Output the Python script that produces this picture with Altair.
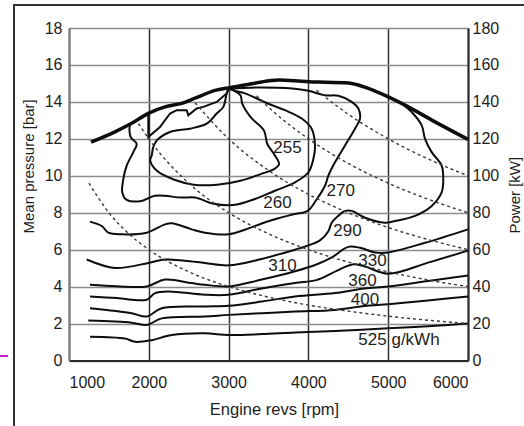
import altair as alt
import pandas as pd

# ---------------- data ----------------
# full-load curve (thick)
fl_rpm = [1276, 1576, 1785, 1994, 2203, 2412, 2580, 2830, 3000, 3205, 3415, 3623, 3832, 4008, 4208, 4543, 4751, 5001, 5252, 5587, 6000]
fl_bar = [11.82, 12.38, 12.84, 13.38, 13.73, 13.92, 14.2, 14.62, 14.76, 14.91, 15.08, 15.18, 15.14, 15.09, 15.06, 15.0, 14.73, 14.27, 13.73, 12.92, 11.97]

# BSFC contours (g/kWh)
c255_rpm = [3000, 3066, 3150, 3171, 3276, 3443, 3485, 3569, 3632, 3569, 3401, 3150, 2857, 2563, 2312, 2102, 2018, 2036, 2056, 2099, 2266, 2516, 2725, 2851, 2934, 2976, 3000]
c255_bar = [14.72, 14.62, 14.35, 13.9, 13.17, 12.45, 11.72, 11.18, 10.63, 10.36, 10.09, 9.73, 9.52, 9.52, 9.8, 10.27, 10.82, 11.1, 11.55, 11.91, 12.37, 12.55, 12.82, 13.37, 13.73, 14.46, 14.72]

jag_rpm = [1994, 1994, 2140, 2266, 2350, 2475, 2495, 2600, 2683, 2851, 2976, 3000]
jag_bar = [13.38, 12.1, 12.64, 13.37, 13.55, 13.55, 13.27, 13.64, 13.73, 14.0, 14.46, 14.72]

c260_rpm = [1800, 1764, 1773, 1848, 1806, 1723, 1681, 1668, 1723, 1911, 2078, 2412, 2579, 2800, 3000, 3122, 3331, 3581, 3832, 4000, 4062, 4083, 4041, 3916, 3707, 3498, 3205, 3080, 3000]
c260_bar = [12.9, 12.73, 12.09, 11.73, 11.28, 10.55, 9.83, 9.1, 8.7, 8.64, 8.92, 8.82, 8.82, 8.5, 8.4, 8.46, 8.74, 9.19, 9.64, 10.19, 10.91, 11.64, 12.55, 13.1, 13.55, 13.9, 14.46, 14.6, 14.72]

c270_rpm = [3000, 3400, 3800, 4000, 4208, 4375, 4543, 4626, 4647, 4584, 4459, 4333, 4249, 4208, 4100, 3990, 3800, 3623, 3415, 3205, 3000, 2704, 2537, 2287, 2203, 1974, 1660, 1493, 1410, 1263]
c270_bar = [14.72, 14.78, 14.72, 14.6, 14.36, 14.33, 14.0, 13.64, 13.1, 12.55, 11.64, 10.73, 10.0, 9.46, 8.7, 8.1, 7.9, 7.7, 7.42, 7.08, 6.83, 6.92, 7.1, 7.43, 7.37, 6.92, 6.83, 6.92, 7.28, 7.52]

c290_rpm = [5169, 5294, 5420, 5461, 5545, 5670, 5690, 5670, 5545, 5336, 5085, 4960, 4710, 4543, 4459, 4375, 4292, 4250, 4145, 3978, 3832, 3415, 3000, 2704, 2450, 2203, 1994, 1576, 1222]
c290_bar = [13.92, 13.45, 12.73, 12.0, 11.28, 10.55, 9.83, 9.1, 8.37, 7.83, 7.55, 7.46, 7.73, 8.1, 8.1, 7.83, 7.46, 7.0, 6.5, 6.2, 6.0, 5.5, 5.15, 5.28, 5.4, 5.47, 5.28, 5.01, 5.47]

c310_rpm = [1263, 1600, 1974, 2203, 2537, 2704, 3000, 3415, 3832, 4100, 4300, 4500, 4647, 4835, 5000, 5461, 6000]
c310_bar = [4.1, 4.02, 4.01, 4.38, 4.19, 4.1, 4.01, 4.38, 4.83, 5.2, 5.6, 6.15, 6.1, 5.85, 5.85, 6.37, 7.1]

c330_rpm = [1263, 1600, 1974, 2078, 2245, 2704, 3000, 3415, 3832, 4100, 4354, 4550, 4700, 5000, 5500, 6000]
c330_bar = [3.47, 3.38, 3.29, 3.65, 3.74, 3.56, 3.56, 3.9, 4.2, 4.35, 4.85, 5.2, 5.1, 4.7, 5.3, 5.95]

c360_rpm = [1263, 1785, 1974, 2161, 2704, 3000, 3415, 3832, 4333, 4700, 5000, 5500, 6000]
c360_bar = [2.83, 2.56, 2.38, 2.83, 2.92, 2.96, 3.19, 3.47, 3.65, 3.9, 4.0, 4.3, 4.6]

c400_rpm = [1242, 1785, 1974, 2161, 2704, 3000, 3415, 3832, 4333, 4700, 5000, 5500, 6000]
c400_bar = [2.16, 2.05, 1.92, 2.28, 2.38, 2.47, 2.56, 2.65, 2.74, 2.95, 3.05, 3.25, 3.47]

c525_rpm = [1263, 1702, 1827, 2036, 2287, 2704, 3000, 3415, 3832, 4333, 5000, 5500, 6000]
c525_bar = [1.29, 1.19, 1.01, 1.1, 1.38, 1.47, 1.38, 1.43, 1.52, 1.6, 1.74, 1.85, 2.0]

# constant-power lines (dashed), kW
p20_rpm = [1250, 1500, 1750, 2000, 2500, 3000, 3500, 4000, 4500, 5000, 5500, 6000]
p20_bar = [9.6, 8.0, 6.86, 6.0, 4.8, 4.0, 3.43, 3.0, 2.67, 2.4, 2.18, 2.0]
p40_rpm = [1870, 2000, 2500, 3000, 3500, 4000, 4500, 5000, 5500, 6000]
p40_bar = [12.83, 12.0, 9.6, 8.0, 6.86, 6.0, 5.33, 4.8, 4.36, 4.0]
p60_rpm = [2580, 3000, 3500, 4000, 4500, 5000, 5500, 6000]
p60_bar = [13.95, 12.0, 10.29, 9.0, 8.0, 7.2, 6.55, 6.0]
p80_rpm = [3350, 3500, 4000, 4500, 5000, 5500, 6000]
p80_bar = [14.33, 13.71, 12.0, 10.67, 9.6, 8.73, 8.0]
p100_rpm = [4100, 4500, 5000, 5500, 6000]
p100_bar = [14.63, 13.33, 12.0, 10.91, 10.0]

# contour labels
lab_text = ["255", "260", "270", "290", "310", "330", "360", "400", "525 g/kWh"]
lab_rpm = [3738, 3613, 4406, 4490, 3676, 4804, 4678, 4709, 4626]
lab_bar = [11.49, 8.51, 9.19, 7.0, 5.1, 5.37, 4.28, 3.29, 1.1]
lab_align = ["center", "center", "center", "center", "center", "center", "center", "center", "left"]

x_ticks = [1000, 2000, 3000, 4000, 5000, 6000]
y_ticks = [0, 2, 4, 6, 8, 10, 12, 14, 16, 18]

# ---------------- tables ----------------
def long(name, rpm, bar):
    return pd.DataFrame({"curve": name, "i": range(len(rpm)), "rpm": rpm, "bar": bar})

smooth = pd.concat([
    long("255", c255_rpm, c255_bar),
    long("260", c260_rpm, c260_bar),
    long("270", c270_rpm, c270_bar),
    long("290", c290_rpm, c290_bar),
    long("310", c310_rpm, c310_bar),
    long("330", c330_rpm, c330_bar),
    long("360", c360_rpm, c360_bar),
    long("400", c400_rpm, c400_bar),
    long("525", c525_rpm, c525_bar),
])
jag = long("jag", jag_rpm, jag_bar)
full = long("full", fl_rpm, fl_bar)
dashed = pd.concat([
    long("20", p20_rpm, p20_bar),
    long("40", p40_rpm, p40_bar),
    long("60", p60_rpm, p60_bar),
    long("80", p80_rpm, p80_bar),
    long("100", p100_rpm, p100_bar),
])
labels = pd.DataFrame({"t": lab_text, "rpm": lab_rpm, "bar": lab_bar, "al": lab_align})

FONT = "Liberation Sans"
TXT = "#1e1e1e"

xscale = alt.Scale(domain=[1000, 6000], nice=False)
yscale = alt.Scale(domain=[0, 18], nice=False)

x_axis = alt.Axis(values=x_ticks, grid=True, gridColor="#333333", gridWidth=1.5,
                  domainColor="#2a2a2a", domainWidth=2.2, ticks=False, labelPadding=14,
                  labelFont=FONT, labelFontSize=16, labelColor=TXT, format="d",
                  title="Engine revs [rpm]", titleFont=FONT, titleFontSize=16.5,
                  titleFontWeight="normal", titleColor=TXT, titleX=205, titleY=49,
                  titleBaseline="middle")
y_axis = alt.Axis(values=y_ticks, grid=True, gridColor="#8c8c8c", gridWidth=1.6,
                  domainColor="#7a7a7a", domainWidth=2, ticks=False, labelPadding=7,
                  labelFont=FONT, labelFontSize=16, labelColor=TXT,
                  title="Mean pressure [bar]", titleFont=FONT, titleFontSize=15,
                  titleFontWeight="normal", titleColor=TXT, titleAngle=270,
                  titleAlign="left", titleBaseline="middle", titleX=-41, titleY=205)
y_axis_r = alt.Axis(orient="right", values=y_ticks, grid=False, domainColor="#2a2a2a",
                    domainWidth=2, ticks=False, labelPadding=4, labelFont=FONT,
                    labelFontSize=16, labelColor=TXT, labelExpr="datum.value * 10",
                    title="Power [kW]", titleFont=FONT, titleFontSize=15,
                    titleFontWeight="normal", titleColor=TXT, titleAngle=270,
                    titleAlign="left", titleBaseline="middle", titleX=46, titleY=205)

X = alt.X("rpm:Q", scale=xscale, axis=x_axis)

contours = alt.Chart(smooth).mark_line(color="#0d0d0d", strokeWidth=2.0,
                                        interpolate="catmull-rom").encode(
    x=X, y=alt.Y("bar:Q", scale=yscale, axis=y_axis),
    detail="curve:N", order="i:Q")

jagged = alt.Chart(jag).mark_line(color="#0d0d0d", strokeWidth=2.0).encode(
    x=X, y=alt.Y("bar:Q", scale=yscale, axis=None), detail="curve:N", order="i:Q")

fullload = alt.Chart(full).mark_line(color="#0d0d0d", strokeWidth=3.5,
                                      interpolate="catmull-rom").encode(
    x=X, y=alt.Y("bar:Q", scale=yscale, axis=None), order="i:Q")

powers = alt.Chart(dashed).mark_line(color="#3a3a3a", strokeWidth=1.4,
                                      strokeDash=[3, 3], interpolate="monotone").encode(
    x=X, y=alt.Y("bar:Q", scale=yscale, axis=y_axis_r), detail="curve:N", order="i:Q")

texts_c = alt.Chart(labels[labels.al == "center"]).mark_text(
    font=FONT, fontSize=17, color=TXT, align="center", baseline="middle").encode(
    x=X, y=alt.Y("bar:Q", scale=yscale, axis=None), text="t:N")
texts_l = alt.Chart(labels[labels.al == "left"]).mark_text(
    font=FONT, fontSize=17, color=TXT, align="left", baseline="middle").encode(
    x=X, y=alt.Y("bar:Q", scale=yscale, axis=None), text="t:N")

one = alt.Data(values=[{"a": 1}])
frame_left = alt.Chart(one).mark_rule(color="#333333", strokeWidth=2).encode(
    x=alt.value(-55), y=alt.value(-23), y2=alt.value(400))
frame_top = alt.Chart(one).mark_rule(color="#333333", strokeWidth=2).encode(
    x=alt.value(-56), x2=alt.value(460), y=alt.value(-23))
magenta = alt.Chart(one).mark_rule(color="#c020c0", strokeWidth=2).encode(
    x=alt.value(-69), x2=alt.value(-61), y=alt.value(328))

chart = alt.layer(
    contours, jagged, fullload, powers, texts_c, texts_l, frame_left, frame_top, magenta
).resolve_scale(y="independent").properties(
    width=399, height=332.5,
    autosize=alt.AutoSizeParams(type="none"),
    padding={"left": 69, "top": 28, "right": 56, "bottom": 66},
    background="white",
).configure_view(stroke=None)

chart.save("out.html", embed_options={"renderer": "svg", "actions": False})
